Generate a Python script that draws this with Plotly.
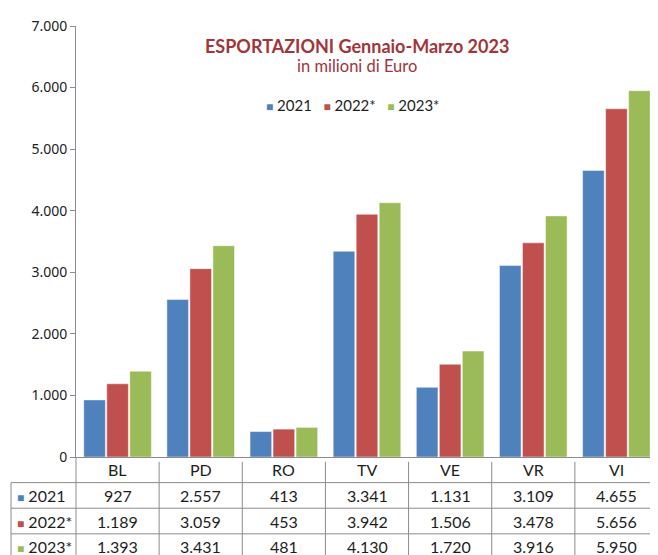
import plotly.graph_objects as go

categories = ["BL", "PD", "RO", "TV", "VE", "VR", "VI"]
series_names = ["2021", "2022*", "2023*"]
v2021 = [927, 2557, 413, 3341, 1131, 3109, 4655]
v2022 = [1189, 3059, 453, 3942, 1506, 3478, 5656]
v2023 = [1393, 3431, 481, 4130, 1720, 3916, 5950]
colors = ["#4F81BD", "#C0504D", "#9BBB59"]
y_ticks = [0, 1000, 2000, 3000, 4000, 5000, 6000, 7000]

series_values = [v2021, v2022, v2023]

# The page body has an 8px margin; compensate so that the screen matches.
OFF = 8
W, H = 658, 555
PLOT_LEFT, PLOT_RIGHT, PLOT_TOP, PLOT_BOTTOM = 76, 658, 19.5, 457  # screen pixels
L = PLOT_LEFT - OFF
R = W - (PLOT_RIGHT - OFF)
T = PLOT_TOP - OFF
B = H - (PLOT_BOTTOM - OFF)
PW = PLOT_RIGHT - PLOT_LEFT
PH = PLOT_BOTTOM - PLOT_TOP


def px_x(px):
    return (px - PLOT_LEFT) / PW


def px_y(py):
    return (PLOT_BOTTOM - py) / PH


fig = go.Figure()
for name, vals, col in zip(series_names, series_values, colors):
    fig.add_trace(go.Bar(
        x=categories, y=vals, name=name, showlegend=False,
        marker=dict(color=col, line=dict(width=0.6, color="rgba(255,255,255,0.8)")),
    ))

TABLE_FONT = "Lato, 'Open Sans', sans-serif"
LINE_COL = "#8C8C8C"
TXT = "#1E1E1E"

shapes = []
annotations = []

row_lines = [483, 509, 535, 561]
left_px = 11
for ry in row_lines:
    shapes.append(dict(type="line", xref="paper", yref="paper",
                       x0=px_x(left_px), x1=1, y0=px_y(ry), y1=px_y(ry),
                       line=dict(color=LINE_COL, width=1)))
shapes.append(dict(type="line", xref="paper", yref="paper",
                   x0=px_x(left_px), x1=px_x(left_px), y0=px_y(483), y1=px_y(561),
                   line=dict(color=LINE_COL, width=1)))
shapes.append(dict(type="line", xref="paper", yref="paper",
                   x0=0, x1=0, y0=0, y1=px_y(561),
                   line=dict(color=LINE_COL, width=1)))
for i in range(1, len(categories)):
    shapes.append(dict(type="line", xref="x", yref="paper",
                       x0=i - 0.5, x1=i - 0.5, y0=px_y(462), y1=px_y(561),
                       line=dict(color=LINE_COL, width=1)))

for c in categories:
    annotations.append(dict(x=c, y=px_y(470), xref="x", yref="paper", text=c,
                            showarrow=False, font=dict(family=TABLE_FONT, size=16, color=TXT),
                            xanchor="center", yanchor="middle"))


def fmt(v):
    return f"{v:,}".replace(",", ".")


def swatch(col):
    return f"<span style='color:{col};font-size:12px'>■</span>"


row_centers = [496, 522, 548]
for name, vals, col, ry in zip(series_names, series_values, colors, row_centers):
    annotations.append(dict(x=px_x(15), y=px_y(ry), xref="paper", yref="paper",
                            text=f"{swatch(col)} {name}",
                            showarrow=False, font=dict(family=TABLE_FONT, size=16, color=TXT),
                            xanchor="left", yanchor="middle"))
    for c, v in zip(categories, vals):
        annotations.append(dict(x=c, y=px_y(ry), xref="x", yref="paper", text=fmt(v),
                                showarrow=False, font=dict(family=TABLE_FONT, size=16, color=TXT),
                                xanchor="center", yanchor="middle"))

# legend (as text with coloured squares)
legend_text = "   ".join(f"{swatch(c)} {n}" for n, c in zip(series_names, colors))
annotations.append(dict(x=px_x(352), y=px_y(100), xref="paper", yref="paper",
                        text=legend_text, showarrow=False,
                        font=dict(family=TABLE_FONT, size=15, color=TXT),
                        xanchor="center", yanchor="middle"))

TITLE_COL = "#A0353A"
annotations.append(dict(x=px_x(357), y=px_y(40), xref="paper", yref="paper",
                        text="<b>ESPORTAZIONI Gennaio-Marzo 2023</b>", showarrow=False,
                        font=dict(family=TABLE_FONT, size=18, color=TITLE_COL),
                        xanchor="center", yanchor="middle"))
annotations.append(dict(x=px_x(357), y=px_y(60), xref="paper", yref="paper",
                        text="in milioni di Euro", showarrow=False,
                        font=dict(family=TABLE_FONT, size=16.5, color=TITLE_COL),
                        xanchor="center", yanchor="middle"))

fig.update_layout(
    width=W, height=H,
    margin=dict(l=L, r=R, t=T, b=B, pad=0),
    paper_bgcolor="white", plot_bgcolor="white",
    separators=",.",
    barmode="group", bargap=0.17, bargroupgap=0.06,
    showlegend=False,
    xaxis=dict(showticklabels=False, showline=True, linecolor=LINE_COL, linewidth=1,
               ticks="", showgrid=False, zeroline=False, fixedrange=True),
    yaxis=dict(range=[0, 7000], tickvals=y_ticks, tickformat=",d",
               showline=True, linecolor=LINE_COL, linewidth=1,
               ticks="outside", ticklen=5, tickcolor=LINE_COL,
               showgrid=False, zeroline=False,
               tickfont=dict(family="'Noto Sans', sans-serif", size=14, color="#222")),
    shapes=shapes,
    annotations=annotations,
)

fig.write_html("out.html")
